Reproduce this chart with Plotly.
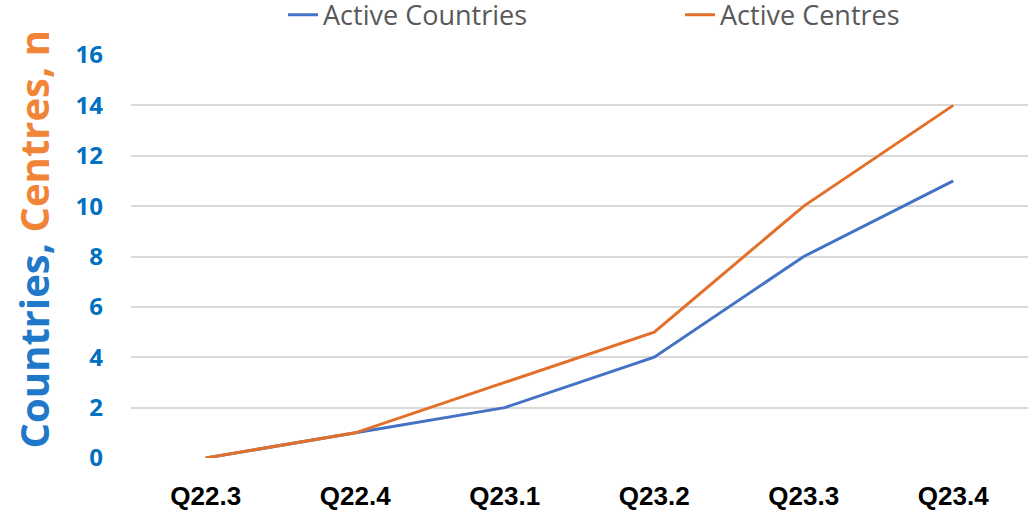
import plotly.graph_objects as go

quarters = ["Q22.3", "Q22.4", "Q23.1", "Q23.2", "Q23.3", "Q23.4"]
active_countries = [0, 1, 2, 4, 8, 11]
active_centres = [0, 1, 3, 5, 10, 14]
y_ticks = [0, 2, 4, 6, 8, 10, 12, 14, 16]

fig = go.Figure()
fig.add_trace(go.Scatter(x=quarters, y=active_countries, mode="lines", name="Active Countries",
                         line=dict(color="#4472C4", width=3)))
fig.add_trace(go.Scatter(x=quarters, y=active_centres, mode="lines", name="Active Centres",
                         line=dict(color="#E2702A", width=3)))

fig.update_layout(
    width=1033, height=517,
    margin=dict(l=131, r=5, t=55, b=59, autoexpand=False),
    paper_bgcolor="white", plot_bgcolor="white",
    showlegend=True,
    legend=dict(orientation="h", x=0.1695, xanchor="left", y=1.099, yanchor="middle",
                font=dict(family="Open Sans", size=27, color="#595959"),
                entrywidth=352, bgcolor="rgba(0,0,0,0)"),
    xaxis=dict(type="category", range=[-0.5, 5.5], showgrid=False, showline=False, zeroline=False,
               ticks="", tickfont=dict(family="Liberation Sans", size=26, color="black", weight="bold"),
               ticklabelstandoff=20),
    yaxis=dict(range=[0, 16], tickvals=y_ticks, showgrid=True, gridcolor="#D9D9D9", gridwidth=2,
               zeroline=False, showline=False, ticks="",
               tickfont=dict(family="Open Sans", size=24, color="#0070C0", weight="bold"),
               ticklabelstandoff=27),
)

fig.add_annotation(
    text="<span style='color:#1F78C8'>Countries, </span><span style='color:#F08537'>Centres, n</span>",
    xref="paper", yref="paper", x=-0.109, y=0.543, xanchor="center", yanchor="middle",
    textangle=-90, showarrow=False,
    font=dict(family="Open Sans", size=40, weight="bold"),
)

fig.write_html("out.html", config={"displayModeBar": False},
               post_script="document.body.style.margin='0px';")
